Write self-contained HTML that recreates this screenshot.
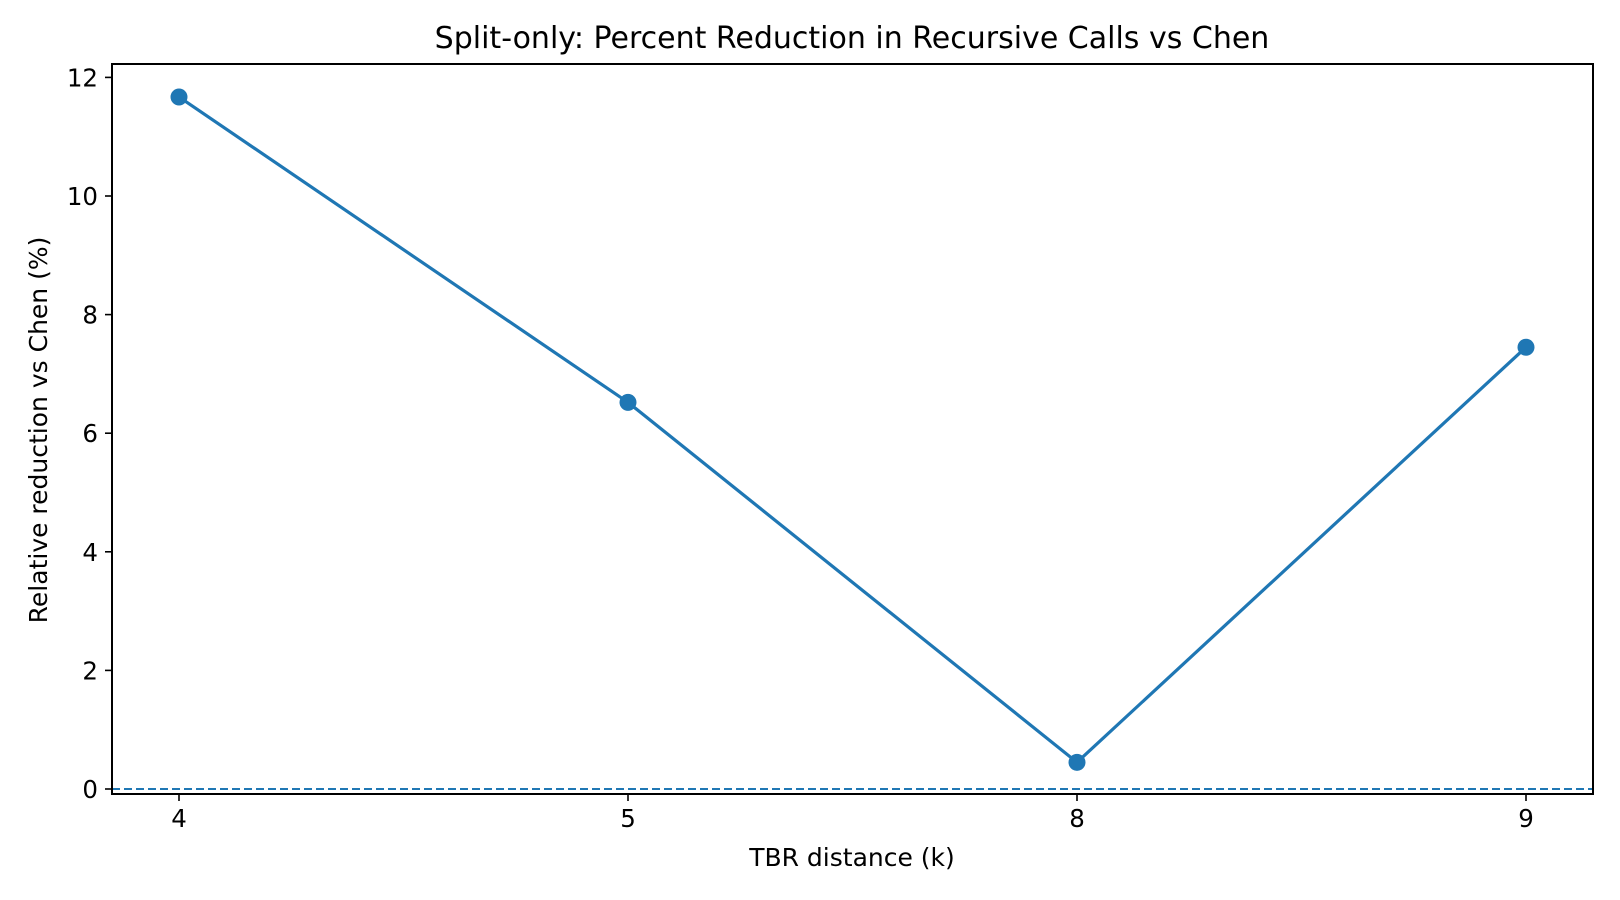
<!DOCTYPE html>
<html><head><meta charset="utf-8"><style>
html,body{margin:0;padding:0;background:#fff}
svg{display:block;font-family:"DejaVu Sans","Liberation Sans",sans-serif}
</style></head><body>
<svg id="chart" width="1620" height="900" viewBox="0 0 1620 900">
<text x="852" y="48" text-anchor="middle" font-size="30">Split-only: Percent Reduction in Recursive Calls vs Chen</text>
<text x="852" y="866" text-anchor="middle" font-size="25">TBR distance (k)</text>
<text transform="translate(47,430) rotate(-90)" text-anchor="middle" font-size="25">Relative reduction vs Chen (%)</text>
<g id="ticks"></g>
<line x1="112" y1="789" x2="1593" y2="789" stroke="#1f77b4" stroke-width="2" stroke-dasharray="8,4"/>
<g id="series"></g>
<rect x="112" y="64" width="1481" height="730" fill="none" stroke="#000" stroke-width="2"/>
</svg>
<script>
const categories = ["4", "5", "8", "9"];
const values = [11.67, 6.52, 0.45, 7.45];
const yTicks = [0, 2, 4, 6, 8, 10, 12];

const NS = "http://www.w3.org/2000/svg";
function xScale(i){ return 179 + i * 449; }
function yScale(v){ return 789 - v * 59.3; }
function mk(tag, attrs, parent){
  const e = document.createElementNS(NS, tag);
  for (const k in attrs) e.setAttribute(k, attrs[k]);
  parent.appendChild(e);
  return e;
}
const tg = document.getElementById('ticks');
yTicks.forEach(t => {
  const y = yScale(t);
  const l = mk('line', {x1:105, x2:112, y1:y, y2:y, stroke:'#000', 'stroke-width':1.6}, tg);
  
  
  const tx = mk('text', {x:98, y:y+9, 'text-anchor':'end', 'font-size':24.5}, tg);
  tx.textContent = t;
  
  
});
categories.forEach((c, i) => {
  const x = xScale(i);
  const l = mk('line', {x1:x, x2:x, y1:794, y2:801, stroke:'#000', 'stroke-width':1.6}, tg);
  
  
  const tx = mk('text', {x:x, y:827, 'text-anchor':'middle', 'font-size':24.5}, tg);
  tx.textContent = c;
  
  
});
const sg = document.getElementById('series');
const pts = values.map((v, i) => xScale(i) + ',' + yScale(v)).join(' ');
const pl = mk('polyline', {points:pts, fill:'none', stroke:'#1f77b4', 'stroke-width':3.2}, sg);


values.forEach((v, i) => {
  const c = mk('circle', {cx:xScale(i), cy:yScale(v), r:8.5, fill:'#1f77b4'}, sg);
  
  
});
</script>
</body></html>
